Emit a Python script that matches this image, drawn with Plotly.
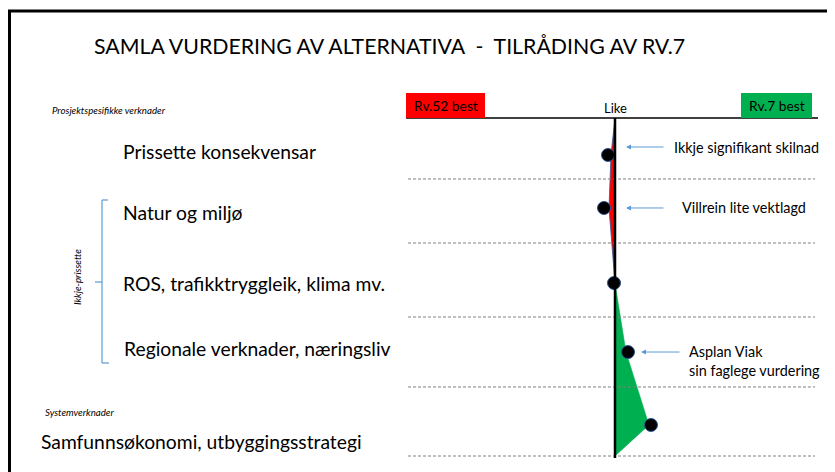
import plotly.graph_objects as go

# page offset of the plot div (browser body margin)
OX, OY = 8, 8
W, H = 835 - OX, 472 - OY

# ---- data ----
criteria = ["Prissette konsekvensar", "Natur og miljø", "ROS, trafikktryggleik, klima mv.",
            "Regionale verknader, næringsliv", "Samfunnsøkonomi, utbyggingsstrategi"]
scores = [-0.7, -1.1, -0.1, 1.3, 3.6]          # <0 : Rv.52 best, >0 : Rv.7 best
marker_rows = [0.547, 1.331, 2.441, 3.462, 4.541]
fill_scores = [-0.4, -0.6, 0.0, 1.1, 3.4]
separator_rows = [0.902, 1.849, 2.944, 3.979, 5.0]
notes = ["Ikkje signifikant skilnad", "Villrein lite vektlagd", "Asplan Viak<br>sin faglege vurdering"]
note_rows = [0.429, 1.331, 3.462]

# axis mapping (score units: 10 px each, row units: 67.6 px each)
x_range = [(OX - 615) / 10, (OX + W - 615) / 10]
y_range = [(OY + H - 118) / 67.6, (OY - 118) / 67.6]

def px(x):
    return (x - OX) / W

def py(y):
    return 1 - (y - OY) / H

FONT = "Lato"
BIG = 19.3
NOTE = 14.4
SMALL = 9.7

fig = go.Figure()

# red area (Rv.52 better)
red_x = [0.0, fill_scores[0], fill_scores[1], fill_scores[2], 0.0]
red_y = [0.0, marker_rows[0], marker_rows[1], marker_rows[2], 0.0]
fig.add_trace(go.Scatter(x=red_x, y=red_y, mode="lines", fill="toself",
                         fillcolor="#FF0000", line=dict(color="#2F5597", width=0.8),
                         hoverinfo="skip", showlegend=False))
# green area (Rv.7 better)
green_x = [fill_scores[2], fill_scores[3], fill_scores[4], 0.0, fill_scores[2]]
green_y = [marker_rows[2], marker_rows[3], marker_rows[4], separator_rows[-1], marker_rows[2]]
fig.add_trace(go.Scatter(x=green_x, y=green_y, mode="lines", fill="toself",
                         fillcolor="#00B050", line=dict(color="#00B050", width=0.5),
                         hoverinfo="skip", showlegend=False))

shapes = []
# frame
shapes.append(dict(type="line", xref="paper", yref="paper", x0=px(8), x1=px(836), y0=py(11), y1=py(11),
                   line=dict(color="black", width=3)))
shapes.append(dict(type="line", xref="paper", yref="paper", x0=px(9.5), x1=px(9.5), y0=py(11), y1=py(473),
                   line=dict(color="black", width=3)))
# separators
for r in separator_rows:
    shapes.append(dict(type="line", xref="paper", yref="y", x0=px(408), x1=px(815), y0=r, y1=r,
                       line=dict(color="#808080", width=1, dash="3px,2px")))
# top line
shapes.append(dict(type="line", xref="paper", yref="paper", x0=px(406), x1=px(818), y0=py(118), y1=py(118),
                   line=dict(color="black", width=1.5)))
# header boxes
shapes.append(dict(type="rect", xref="paper", yref="paper", x0=px(406), x1=px(485), y0=py(93), y1=py(118),
                   fillcolor="#FF0000", line=dict(width=0)))
shapes.append(dict(type="rect", xref="paper", yref="paper", x0=px(741), x1=px(812), y0=py(93), y1=py(118),
                   fillcolor="#00B050", line=dict(width=0)))
# centre line "Like"
shapes.append(dict(type="line", xref="x", yref="paper", x0=0, x1=0, y0=py(118), y1=py(458),
                   line=dict(color="black", width=2.5), layer="above"))
# bracket
bc = "#5B9BD5"
shapes.append(dict(type="line", xref="paper", yref="paper", x0=px(102), x1=px(102), y0=py(200), y1=py(363),
                   line=dict(color=bc, width=1.2)))
shapes.append(dict(type="line", xref="paper", yref="paper", x0=px(102), x1=px(108), y0=py(200), y1=py(200),
                   line=dict(color=bc, width=1.2)))
shapes.append(dict(type="line", xref="paper", yref="paper", x0=px(102), x1=px(109), y0=py(363), y1=py(363),
                   line=dict(color=bc, width=1.2)))
shapes.append(dict(type="line", xref="paper", yref="paper", x0=px(95), x1=px(102), y0=py(282), y1=py(282),
                   line=dict(color=bc, width=1.2)))

# markers
fig.add_trace(go.Scatter(x=scores, y=marker_rows, mode="markers",
                         marker=dict(size=13, color="black", line=dict(color="#2F5597", width=1)),
                         text=criteria, hoverinfo="text", showlegend=False))

ann = []
ann.append(dict(text="SAMLA VURDERING AV ALTERNATIVA  -  TILRÅDING AV RV.7", xref="paper", yref="paper",
                x=px(92), y=py(46), xanchor="left", yanchor="middle", showarrow=False,
                font=dict(family=FONT, size=21.3, color="black")))
ann.append(dict(text="<i>Prosjektspesifikke verknader</i>", xref="paper", yref="paper",
                x=px(50), y=py(110), xanchor="left", yanchor="middle", showarrow=False,
                font=dict(family=FONT, size=SMALL, color="black")))
ann.append(dict(text="<i>Systemverknader</i>", xref="paper", yref="paper",
                x=px(43), y=py(412), xanchor="left", yanchor="middle", showarrow=False,
                font=dict(family=FONT, size=SMALL, color="black")))
ann.append(dict(text="<i>Ikkje-prissette</i>", xref="paper", yref="paper",
                x=px(77), y=py(277), xanchor="center", yanchor="middle", showarrow=False, textangle=-90,
                font=dict(family=FONT, size=SMALL, color="black")))
label_pos = [(121, 152), (121, 212), (121, 283), (122, 348), (39, 441)]
for name, (lx, ly) in zip(criteria, label_pos):
    ann.append(dict(text=name, xref="paper", yref="paper", x=px(lx), y=py(ly), xanchor="left",
                    yanchor="middle", showarrow=False, font=dict(family=FONT, size=BIG, color="black")))
ann.append(dict(text="Like", xref="x", yref="paper", x=0, y=py(108), xanchor="center", yanchor="middle",
                showarrow=False, font=dict(family=FONT, size=13, color="black")))
ann.append(dict(text="Rv.52 best", xref="paper", yref="paper", x=px(445.5), y=py(105), xanchor="center",
                yanchor="middle", showarrow=False, font=dict(family=FONT, size=13.8, color="black")))
ann.append(dict(text="Rv.7 best", xref="paper", yref="paper", x=px(776.5), y=py(105), xanchor="center",
                yanchor="middle", showarrow=False, font=dict(family=FONT, size=13.8, color="black")))

# notes with arrows
note_text_x = [672, 680, 687]
arrow_tip = [1.1, 1.1, 2.6]
arrow_len = [39, 39, 40]
for t, r, tx, tip, ln in zip(notes, note_rows, note_text_x, arrow_tip, arrow_len):
    ann.append(dict(text="", x=tip, y=r, xref="x", yref="y", ax=ln, ay=0, showarrow=True,
                    arrowhead=2, arrowsize=1, arrowwidth=1, arrowcolor=bc))
    yoff = 0 if "<br>" not in t else 0.13
    ann.append(dict(text=t, x=px(tx), y=r + yoff, xref="paper", yref="y", xanchor="left", yanchor="middle",
                    showarrow=False, align="left", font=dict(family=FONT, size=NOTE, color="black")))

fig.update_layout(
    width=W, height=H, margin=dict(l=0, r=0, t=0, b=0),
    paper_bgcolor="white", plot_bgcolor="white",
    xaxis=dict(range=x_range, visible=False, fixedrange=True),
    yaxis=dict(range=y_range, visible=False, fixedrange=True),
    shapes=shapes, annotations=ann,
)

fig.write_html("out.html", config={"displayModeBar": False})
